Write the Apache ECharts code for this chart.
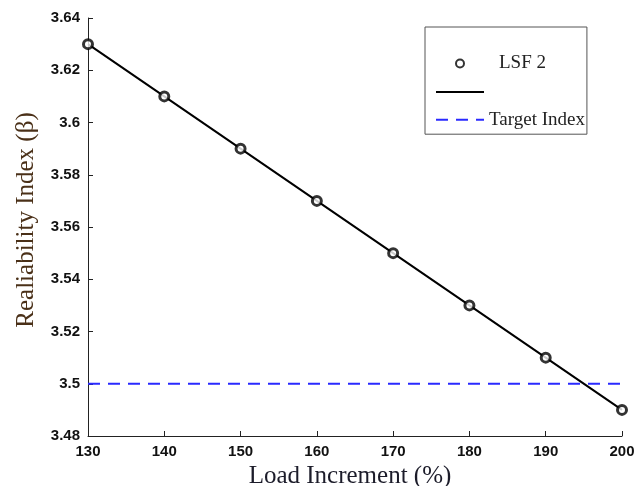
<!DOCTYPE html>
<html>
<head>
<meta charset="utf-8">
<script src="https://cdn.jsdelivr.net/npm/echarts@6/dist/echarts.min.js"></script>
<style>
html,body{margin:0;padding:0;background:#fff;}
#chart{width:634px;height:486px;}
</style>
</head>
<body>
<div id="chart"></div>
<script>
var loadIncrement = [130, 140, 150, 160, 170, 180, 190, 200];
var reliability = [3.63, 3.61, 3.59, 3.57, 3.55, 3.53, 3.51, 3.49];
var targetX = [130, 200];
var targetIndex = [3.5, 3.5];

var lsfData = loadIncrement.map(function (x, i) { return [x, reliability[i]]; });
var targetData = targetX.map(function (x, i) { return [x, targetIndex[i]]; });

var chart = echarts.init(document.getElementById('chart'));
var tickFont = { fontFamily: 'Liberation Sans', fontWeight: 'bold', fontSize: 15, color: '#111' };
chart.setOption({
  animation: false,
  backgroundColor: '#fff',
  grid: { left: 88, right: 12, top: 18, bottom: 50, containLabel: false, outerBoundsMode: 'none' },
  xAxis: {
    type: 'value', min: 130, max: 200, interval: 10,
    name: 'Load Increment (%)', nameLocation: 'middle', nameGap: 19,
    nameTextStyle: { fontFamily: 'Liberation Serif', fontSize: 25, color: '#1c1c2a', padding: [0, 10, 0, 0] },
    axisLine: { lineStyle: { color: '#222', width: 1 } },
    axisTick: { inside: true, length: 5, lineStyle: { color: '#222' } },
    axisLabel: Object.assign({ margin: 8 }, tickFont),
    splitLine: { show: false }
  },
  yAxis: {
    type: 'value', min: 3.48, max: 3.64, interval: 0.02,
    name: 'Realiability Index (\u03B2)', nameLocation: 'middle', nameGap: 49,
    nameTextStyle: { fontFamily: 'Liberation Serif', fontSize: 25, color: '#4a3018', padding: [0, 0, 0, 14] },
    axisLine: { show: true, lineStyle: { color: '#222', width: 1 } },
    axisTick: { show: true, inside: true, length: 5, lineStyle: { color: '#222' } },
    axisLabel: Object.assign({ margin: 8, formatter: function (v) { return String(Math.round(v * 100) / 100); } }, tickFont),
    splitLine: { show: false }
  },
  legend: {
    orient: 'vertical', left: 425, top: 27,
    padding: [27, 2, 5, 10],
    itemWidth: 48, itemHeight: 8, itemGap: 15,
    borderColor: '#555', borderWidth: 1,
    backgroundColor: '#fff',
    textStyle: { fontFamily: 'Liberation Serif', fontSize: 19, color: '#222' },
    formatter: function (n) { return n === ' ' ? '' : n; },
    data: [
      { name: 'LSF 2', textStyle: { padding: [0, 0, 0, 10] } },
      { name: ' ', itemStyle: { opacity: 0 } },
      { name: 'Target Index', itemStyle: { opacity: 0 } }
    ]
  },
  series: [
    {
      name: ' ', type: 'line', data: lsfData, symbol: 'none',
      lineStyle: { color: '#000', width: 2 }, itemStyle: { color: '#000' }, z: 2
    },
    {
      name: 'LSF 2', type: 'scatter', data: lsfData, symbol: 'circle', symbolSize: 9,
      itemStyle: { color: '#fff', borderColor: '#000', borderWidth: 3 }, z: 3
    },
    {
      name: 'Target Index', type: 'line', data: targetData, symbol: 'none',
      lineStyle: { color: '#2a2aff', width: 2, type: [12, 8] }, itemStyle: { color: '#2a2aff' }, z: 1
    }
  ]
});
</script>
</body>
</html>
